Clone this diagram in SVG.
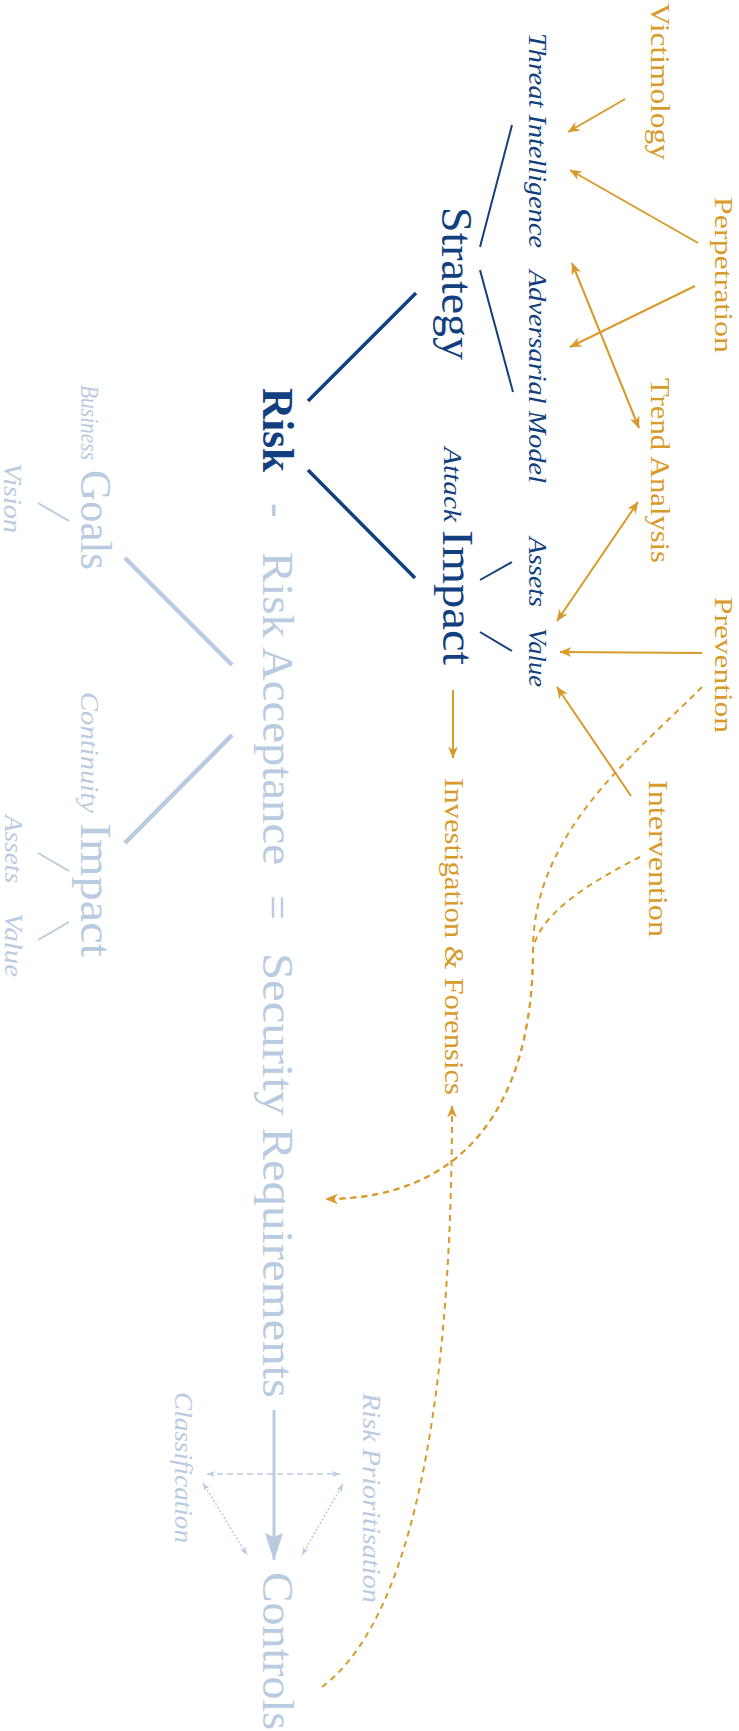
<svg xmlns="http://www.w3.org/2000/svg" width="739" height="1731" viewBox="0 0 739 1731">
<style>
text{font-family:"Liberation Serif",serif}
.o{fill:#D89B2B;font-size:28px}
.o2{font-size:26px}
.d{fill:#123F7D}
.l{fill:#B9CBE0}
.it{font-style:italic;font-size:26px}
.big{font-size:44px}
.b{font-weight:bold}
.so{stroke:#D89B2B;stroke-width:2;fill:none}
.do{stroke:#D89B2B;stroke-width:2;fill:none;stroke-dasharray:6 5}
.sd{stroke:#123F7D;stroke-width:2;fill:none}
.td{stroke:#123F7D;stroke-width:3.5;fill:none}
.tl{stroke:#B9CBE0;stroke-width:4.5;fill:none}
.sl{stroke:#B9CBE0;stroke-width:2;fill:none}
.dl{stroke:#B9CBE0;stroke-width:1.5;fill:none;stroke-dasharray:6 4}
.ol{stroke:#B9CBE0;stroke-width:1.5;fill:none;stroke-dasharray:2 2}
</style>
<defs>
<marker id="ao" viewBox="0 0 12 10" refX="11.5" refY="5" markerWidth="12" markerHeight="10" markerUnits="userSpaceOnUse" orient="auto-start-reverse"><path d="M0,0 L12,5 L0,10 L3.5,5 z" fill="#D89B2B"/></marker>
<marker id="alb" viewBox="0 0 28 18" refX="27" refY="9" markerWidth="28" markerHeight="18" markerUnits="userSpaceOnUse" orient="auto"><path d="M0,0 L28,9 L0,18 L4,9 z" fill="#B9CBE0"/></marker>
<marker id="als" viewBox="0 0 8 6" refX="8" refY="3" markerWidth="8" markerHeight="6" markerUnits="userSpaceOnUse" orient="auto-start-reverse"><path d="M0,0 L8,3 L0,6 L2,3 z" fill="#B9CBE0"/></marker>
</defs>

<g id="connectors">
<line class="sd" x1="512" y1="125" x2="480" y2="247"/>
<line class="sd" x1="480" y1="270" x2="513" y2="392"/>
<line class="td" x1="416" y1="293" x2="308" y2="401"/>
<line class="td" x1="308" y1="470" x2="415" y2="578"/>
<line class="sd" x1="512" y1="562" x2="480" y2="580"/>
<line class="sd" x1="480" y1="632" x2="512" y2="651"/>
<line class="so" x1="625" y1="99" x2="568" y2="132" marker-end="url(#ao)"/>
<line class="so" x1="698" y1="243" x2="570" y2="170" marker-end="url(#ao)"/>
<line class="so" x1="695" y1="286" x2="570" y2="347" marker-end="url(#ao)"/>
<line class="so" x1="572" y1="263" x2="639" y2="428" marker-start="url(#ao)" marker-end="url(#ao)"/>
<line class="so" x1="638" y1="502" x2="557" y2="621" marker-start="url(#ao)" marker-end="url(#ao)"/>
<line class="so" x1="702" y1="653" x2="560" y2="652" marker-end="url(#ao)"/>
<line class="so" x1="631" y1="796" x2="557" y2="687" marker-end="url(#ao)"/>
<line class="so" x1="453" y1="690" x2="453" y2="758" marker-end="url(#ao)"/>
<path class="do" d="M702,687 C640,750 533,830 533,950 C533,1110 460,1199 326,1199" marker-end="url(#ao)"/>
<path class="do" d="M640,857 C590,882 538,915 533,950 C533,1110 460,1199 326,1199" marker-end="url(#ao)"/>
<path class="do" d="M322,1687 C405,1625 452,1430 452,1106" marker-end="url(#ao)"/>
<line class="tl" x1="125" y1="558" x2="232" y2="665"/>
<line class="tl" x1="232" y1="735" x2="125" y2="843"/>
<line class="sl" x1="38" y1="503" x2="69" y2="521"/>
<line class="sl" x1="38" y1="853" x2="69" y2="871"/>
<line class="sl" x1="69" y1="922" x2="38" y2="940"/>
<line stroke="#B9CBE0" stroke-width="3" x1="274" y1="1410" x2="274" y2="1560" marker-end="url(#alb)"/>
<line class="dl" x1="207" y1="1474" x2="340" y2="1474" marker-start="url(#als)" marker-end="url(#als)"/>
<line class="ol" x1="203" y1="1483" x2="247" y2="1555" marker-start="url(#als)" marker-end="url(#als)"/>
<line class="ol" x1="343" y1="1484" x2="302" y2="1555" marker-start="url(#als)" marker-end="url(#als)"/>
</g>

<g id="victimology"><text class="o" x="651" y="3" transform="rotate(90 651 3)" textLength="157" lengthAdjust="spacingAndGlyphs">Victimology</text></g>
<g id="perpetration"><text class="o o2" x="715" y="197" transform="rotate(90 715 197)" textLength="156" lengthAdjust="spacingAndGlyphs">Perpetration</text></g>
<g id="trend-analysis"><text class="o" x="651" y="378" transform="rotate(90 651 378)" textLength="185" lengthAdjust="spacingAndGlyphs">Trend Analysis</text></g>
<g id="prevention"><text class="o o2" x="715" y="597" transform="rotate(90 715 597)" textLength="136" lengthAdjust="spacingAndGlyphs">Prevention</text></g>
<g id="intervention"><text class="o" x="649" y="780" transform="rotate(90 649 780)" textLength="157" lengthAdjust="spacingAndGlyphs">Intervention</text></g>
<g id="investigation"><text class="o" x="445" y="778" transform="rotate(90 445 778)" textLength="317" lengthAdjust="spacingAndGlyphs">Investigation &amp; Forensics</text></g>

<g id="threat-intelligence"><text class="d it" x="529" y="33" transform="rotate(90 529 33)" textLength="215" lengthAdjust="spacingAndGlyphs">Threat Intelligence</text></g>
<g id="adversarial-model"><text class="d it" x="529" y="270" transform="rotate(90 529 270)" textLength="213" lengthAdjust="spacingAndGlyphs">Adversarial Model</text></g>
<g id="strategy"><text class="d big" x="442" y="207" transform="rotate(90 442 207)" textLength="153" lengthAdjust="spacingAndGlyphs">Strategy</text></g>
<g id="attack-impact"><text class="d it" x="444" y="447" transform="rotate(90 444 447)" textLength="75" lengthAdjust="spacingAndGlyphs">Attack</text><text class="d big" x="443" y="530" transform="rotate(90 443 530)" textLength="135" lengthAdjust="spacingAndGlyphs">Impact</text></g>
<g id="assets"><text class="d it" x="529" y="537" transform="rotate(90 529 537)" textLength="70" lengthAdjust="spacingAndGlyphs">Assets</text></g>
<g id="value"><text class="d it" x="529" y="628" transform="rotate(90 529 628)" textLength="59" lengthAdjust="spacingAndGlyphs">Value</text></g>
<g id="risk"><text class="d big b" x="263" y="388" transform="rotate(90 263 388)" textLength="84" lengthAdjust="spacingAndGlyphs">Risk</text></g>

<g id="minus"><text class="l big" x="263" y="503" transform="rotate(90 263 503)">-</text></g>
<g id="risk-acceptance"><text class="l big" x="263" y="552" transform="rotate(90 263 552)" textLength="313" lengthAdjust="spacingAndGlyphs">Risk Acceptance</text></g>
<g id="equals"><text class="l big" x="263" y="895" transform="rotate(90 263 895)">=</text></g>
<g id="security-requirements"><text class="l big" x="263" y="953" transform="rotate(90 263 953)" textLength="445" lengthAdjust="spacingAndGlyphs">Security Requirements</text></g>
<g id="controls"><text class="l big" x="263" y="1572" transform="rotate(90 263 1572)" textLength="158" lengthAdjust="spacingAndGlyphs">Controls</text></g>
<g id="business-goals"><text class="l it" x="81" y="385" transform="rotate(90 81 385)" textLength="75" lengthAdjust="spacingAndGlyphs">Business</text><text class="l big" x="81" y="470" transform="rotate(90 81 470)" textLength="100" lengthAdjust="spacingAndGlyphs">Goals</text></g>
<g id="vision"><text class="l it" x="4" y="463" transform="rotate(90 4 463)" textLength="70" lengthAdjust="spacingAndGlyphs">Vision</text></g>
<g id="continuity-impact"><text class="l it" x="81" y="692" transform="rotate(90 81 692)" textLength="121" lengthAdjust="spacingAndGlyphs">Continuity</text><text class="l big" x="81" y="823" transform="rotate(90 81 823)" textLength="134" lengthAdjust="spacingAndGlyphs">Impact</text></g>
<g id="assets-light"><text class="l it" x="5" y="815" transform="rotate(90 5 815)" textLength="68" lengthAdjust="spacingAndGlyphs">Assets</text></g>
<g id="value-light"><text class="l it" x="5" y="913" transform="rotate(90 5 913)" textLength="64" lengthAdjust="spacingAndGlyphs">Value</text></g>
<g id="classification"><text class="l it" x="175" y="1392" transform="rotate(90 175 1392)" textLength="151" lengthAdjust="spacingAndGlyphs">Classification</text></g>
<g id="risk-prioritisation"><text class="l it" x="363" y="1393" transform="rotate(90 363 1393)" textLength="210" lengthAdjust="spacingAndGlyphs">Risk Prioritisation</text></g>
</svg>
